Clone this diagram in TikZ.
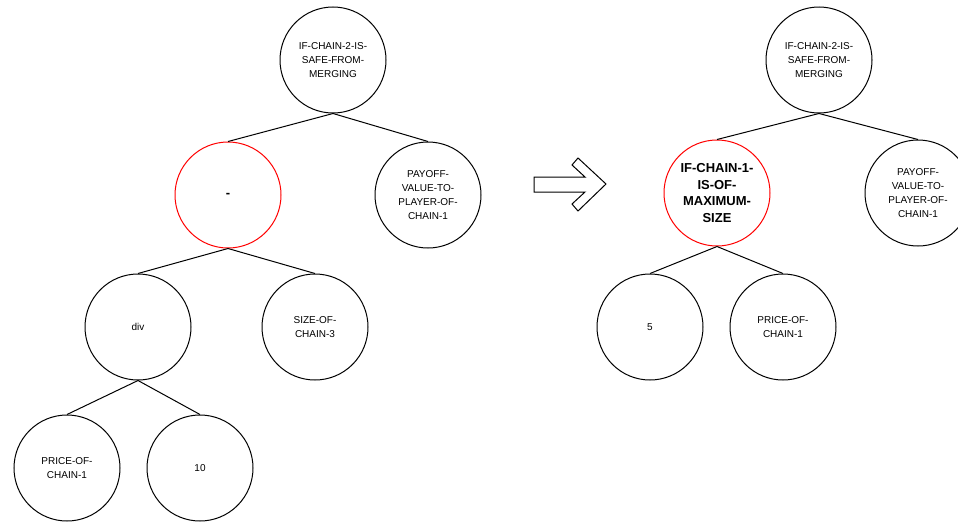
\documentclass[tikz,border=0pt]{standalone}
\usepackage{fontspec}
\setmainfont{Liberation Sans}
\begin{document}
\begin{tikzpicture}[x=1pt,y=-1pt,line width=1pt,
	tnode/.style={draw,circle,minimum size=106pt,inner sep=0pt,align=center,font=\fontsize{10}{14}\selectfont},
	hot/.style={draw=red},
	boldtext/.style={font=\bfseries\fontsize{13}{16.5}\selectfont}]
					\useasboundingbox (0,0) rectangle (958,522);
					
					\node[tnode] (lroot) at (333,60) {IF-CHAIN-2-IS-\\SAFE-FROM-\\MERGING};
					\node[tnode,hot,boldtext] (lminus) at (228,195) {-};
					\node[tnode] (lpayoff) at (428,195) {PAYOFF-\\VALUE-TO-\\PLAYER-OF-\\CHAIN-1};
					\node[tnode] (ldiv) at (138,327) {div};
					\node[tnode] (lsize) at (315,327) {SIZE-OF-\\CHAIN-3};
					\node[tnode] (lprice) at (67,468) {PRICE-OF-\\CHAIN-1};
					\node[tnode] (lten) at (200,468) {10};
					
					\draw (lroot.south)--(lminus.north);
					\draw (lroot.south)--(lpayoff.north);
					\draw (lminus.south)--(ldiv.north);
					\draw (lminus.south)--(lsize.north);
					\draw (ldiv.south)--(lprice.north);
					\draw (ldiv.south)--(lten.north);
					
					\draw (534,177)--(585,177)--(572,165)--(578,158)--(606,184)--(578,211)--(572,204)--(585,192)--(534,192)--cycle;
					
					\node[tnode] (rroot) at (819,60) {IF-CHAIN-2-IS-\\SAFE-FROM-\\MERGING};
					\node[tnode,hot,boldtext] (rmax) at (717,193) {IF-CHAIN-1-\\IS-OF-\\MAXIMUM-\\SIZE};
					\node[tnode] (rpayoff) at (918,193) {PAYOFF-\\VALUE-TO-\\PLAYER-OF-\\CHAIN-1};
					\node[tnode] (rfive) at (650,327) {5};
					\node[tnode] (rprice) at (783,327) {PRICE-OF-\\CHAIN-1};
					
					\draw (rroot.south)--(rmax.north);
					\draw (rroot.south)--(rpayoff.north);
					\draw (rmax.south)--(rfive.north);
					\draw (rmax.south)--(rprice.north);
\end{tikzpicture}
\end{document}
